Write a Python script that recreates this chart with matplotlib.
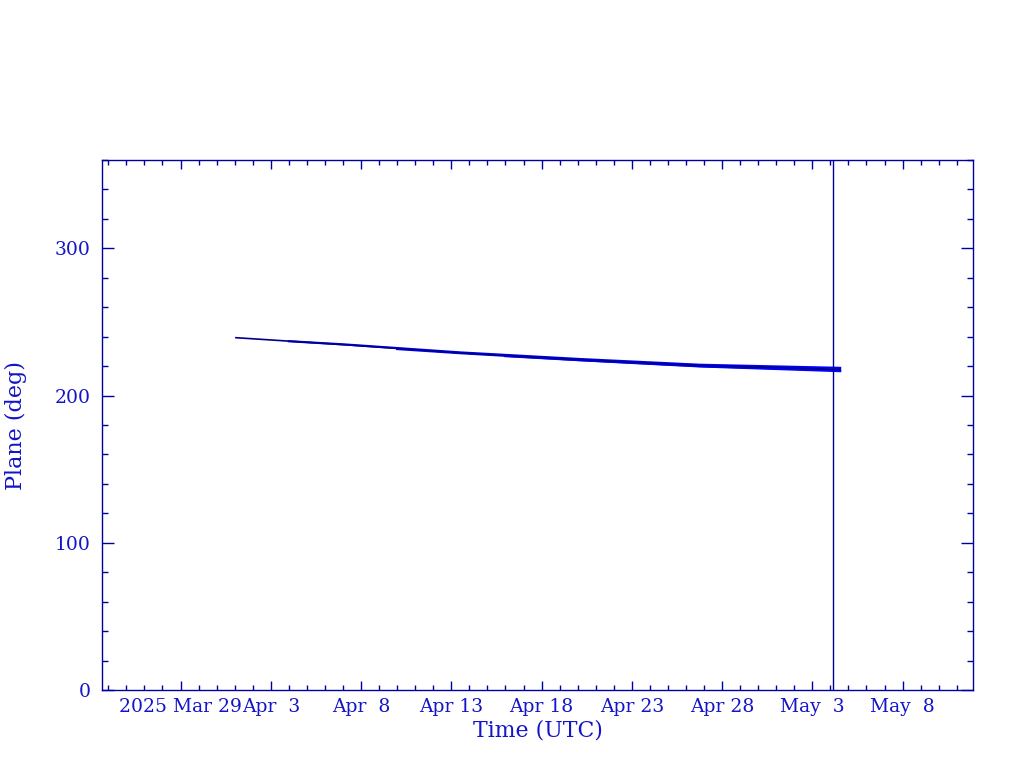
import matplotlib
matplotlib.use("Agg")
import matplotlib.pyplot as plt
import matplotlib.dates as mdates
from matplotlib.ticker import MultipleLocator
from datetime import datetime, timedelta

# ---- data ----
ref_date = datetime(2025, 3, 29)
# day offsets from 2025-03-29 and plane angle (deg)
navy_days = [3.07, 9.11, 15.48, 22.13, 28.78, 36.54]
navy_vals = [239.3, 234.5, 229.0, 224.4, 220.4, 217.8]
blue1_days = [6.0, 9.11, 15.48, 22.13, 28.78, 36.54]
blue1_vals = [236.9, 234.7, 229.3, 224.8, 220.9, 218.8]
blue2_days = [12.0, 15.48, 22.13, 28.78, 36.54]
blue2_vals = [231.6, 228.8, 224.1, 220.0, 217.2]
blue3_days = [18.0, 22.13, 28.78, 36.54]
blue3_vals = [226.8, 224.0, 219.8, 216.6]
now_day = 36.17
tick_days = [0, 5, 10, 15, 20, 25, 30, 35, 40]
tick_labels = ["2025 Mar 29", "Apr  3", "Apr  8", "Apr 13", "Apr 18",
               "Apr 23", "Apr 28", "May  3", "May  8"]
xlim_days = [-4.35, 43.9]
ylim = [0, 360]

# ---- style ----
text_col = "#1414C8"
axis_col = "#0000A0"
plt.rcParams['font.family'] = ['DejaVu Serif']

def to_dates(days):
    return [ref_date + timedelta(days=d) for d in days]

fig = plt.figure(figsize=(10.24, 7.68), dpi=100)
ax = fig.add_axes([102/1024, 1-690/768, (973-102)/1024, (690-160)/768])

ax.plot(to_dates(blue3_days), blue3_vals, color="#0000FF", lw=1.6)
ax.plot(to_dates(blue2_days), blue2_vals, color="#0000FF", lw=1.6)
ax.plot(to_dates(blue1_days), blue1_vals, color="#0000FF", lw=1.6)
ax.plot(to_dates(navy_days), navy_vals, color="#00008B", lw=1.2)
ax.axvline(to_dates([now_day])[0], color=axis_col, lw=1.0)

ax.set_xlim(to_dates(xlim_days))
ax.set_ylim(ylim)

ax.set_xticks(to_dates(tick_days))
ax.set_xticklabels(tick_labels)
ax.xaxis.set_minor_locator(mdates.DayLocator())
ax.yaxis.set_major_locator(MultipleLocator(100))
ax.yaxis.set_minor_locator(MultipleLocator(20))

for s in ax.spines.values():
    s.set_color(axis_col)
    s.set_linewidth(1.0)

ax.tick_params(which='both', direction='in', top=True, right=True,
               color=axis_col, labelcolor=text_col, labelsize=13.5, width=1.0)
ax.tick_params(axis='x', which='major', length=6.5, pad=6)
ax.tick_params(axis='x', which='minor', length=3.5)
ax.tick_params(axis='y', which='major', length=8.5, pad=8)
ax.tick_params(axis='y', which='minor', length=4.3)

ax.set_xlabel("Time (UTC)", color=text_col, fontsize=15.8, labelpad=2)
ax.set_ylabel("Plane (deg)", color=text_col, fontsize=16, labelpad=20)

fig.savefig("out.png", dpi=100, facecolor="white")
